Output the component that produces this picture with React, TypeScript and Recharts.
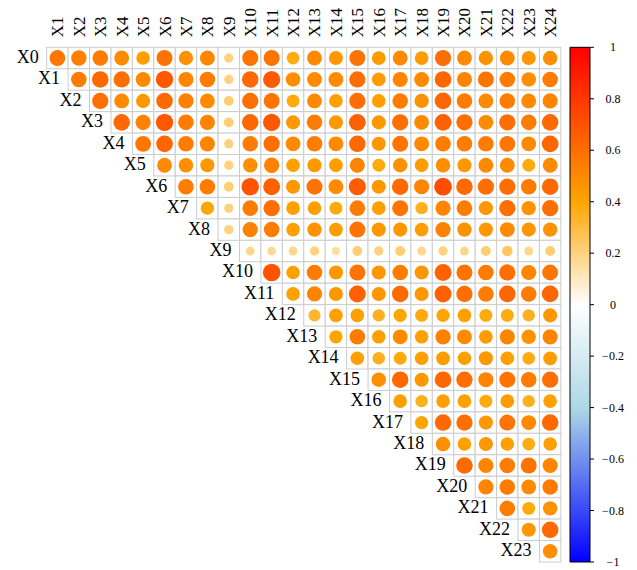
import React from 'react';
import { ScatterChart, Scatter, XAxis, YAxis, ReferenceArea } from 'recharts';

// Variable names along each axis
const rowLabels = Array.from({ length: 24 }, (_, i) => `X${i}`);
const colLabels = Array.from({ length: 24 }, (_, i) => `X${i + 1}`);
const colTicks = colLabels.map((_, i) => i + 1);

// Upper-triangle correlations: row Xi holds the values for columns X(i+1) .. X24
const corrX0 = [0.57, 0.54, 0.55, 0.5, 0.42, 0.58, 0.47, 0.51, 0.2, 0.58, 0.58, 0.37, 0.5, 0.45, 0.58, 0.43, 0.5, 0.43, 0.6, 0.5, 0.47, 0.5, 0.45, 0.48];
const corrX1 = [0.55, 0.62, 0.6, 0.5, 0.68, 0.52, 0.55, 0.2, 0.62, 0.67, 0.48, 0.5, 0.5, 0.6, 0.43, 0.52, 0.5, 0.63, 0.52, 0.58, 0.55, 0.48, 0.55];
const corrX2 = [0.6, 0.5, 0.45, 0.62, 0.53, 0.5, 0.22, 0.6, 0.58, 0.38, 0.5, 0.42, 0.6, 0.42, 0.55, 0.47, 0.63, 0.55, 0.5, 0.55, 0.5, 0.52];
const corrX3 = [0.62, 0.53, 0.68, 0.55, 0.52, 0.22, 0.62, 0.68, 0.45, 0.55, 0.45, 0.65, 0.45, 0.6, 0.5, 0.65, 0.6, 0.5, 0.6, 0.55, 0.62];
const corrX4 = [0.57, 0.63, 0.55, 0.52, 0.2, 0.55, 0.6, 0.5, 0.55, 0.5, 0.62, 0.45, 0.58, 0.5, 0.55, 0.55, 0.55, 0.57, 0.5, 0.63];
const corrX5 = [0.5, 0.48, 0.45, 0.2, 0.48, 0.53, 0.42, 0.45, 0.43, 0.52, 0.38, 0.47, 0.43, 0.48, 0.45, 0.5, 0.5, 0.38, 0.5];
const corrX6 = [0.55, 0.55, 0.22, 0.7, 0.65, 0.45, 0.58, 0.5, 0.67, 0.45, 0.62, 0.52, 0.72, 0.62, 0.6, 0.6, 0.55, 0.62];
const corrX7 = [0.4, 0.2, 0.55, 0.6, 0.42, 0.42, 0.38, 0.55, 0.42, 0.58, 0.35, 0.52, 0.55, 0.45, 0.6, 0.47, 0.6];
const corrX8 = [0.2, 0.53, 0.55, 0.42, 0.47, 0.43, 0.58, 0.45, 0.45, 0.43, 0.53, 0.47, 0.45, 0.5, 0.45, 0.47];
const corrX9 = [0.18, 0.17, 0.18, 0.2, 0.15, 0.22, 0.2, 0.22, 0.18, 0.2, 0.18, 0.22, 0.25, 0.18, 0.22];
const corrX10 = [0.7, 0.42, 0.55, 0.45, 0.58, 0.45, 0.55, 0.45, 0.65, 0.58, 0.55, 0.6, 0.52, 0.57];
const corrX11 = [0.42, 0.52, 0.45, 0.65, 0.45, 0.62, 0.45, 0.65, 0.6, 0.55, 0.63, 0.55, 0.63];
const corrX12 = [0.33, 0.42, 0.42, 0.35, 0.4, 0.38, 0.4, 0.42, 0.38, 0.38, 0.35, 0.45];
const corrX13 = [0.4, 0.55, 0.42, 0.5, 0.42, 0.53, 0.5, 0.43, 0.52, 0.47, 0.52];
const corrX14 = [0.42, 0.35, 0.38, 0.42, 0.43, 0.42, 0.45, 0.42, 0.37, 0.43];
const corrX15 = [0.48, 0.62, 0.45, 0.63, 0.6, 0.52, 0.58, 0.55, 0.6];
const corrX16 = [0.42, 0.35, 0.42, 0.42, 0.38, 0.43, 0.35, 0.42];
const corrX17 = [0.4, 0.62, 0.6, 0.45, 0.58, 0.5, 0.62];
const corrX18 = [0.48, 0.42, 0.45, 0.42, 0.37, 0.42];
const corrX19 = [0.62, 0.52, 0.55, 0.58, 0.52];
const corrX20 = [0.52, 0.55, 0.5, 0.55];
const corrX21 = [0.55, 0.38, 0.47];
const corrX22 = [0.45, 0.62];
const corrX23 = [0.48];

const corrRows = [
  corrX0, corrX1, corrX2, corrX3, corrX4, corrX5, corrX6, corrX7, corrX8, corrX9, corrX10, corrX11,
  corrX12, corrX13, corrX14, corrX15, corrX16, corrX17, corrX18, corrX19, corrX20, corrX21, corrX22, corrX23,
];

// Colour bar scale
const colorbarTicks = [-1, -0.8, -0.6, -0.4, -0.2, 0, 0.2, 0.4, 0.6, 0.8, 1];

// Diverging palette: blue -> light blue -> white -> orange -> red
const colorStops: [number, [number, number, number]][] = [
  [-1, [0, 0, 255]],
  [-0.4, [173, 216, 230]],
  [0, [255, 255, 255]],
  [0.4, [255, 165, 0]],
  [1, [255, 0, 0]],
];

function corrColor(v: number): string {
  for (let k = 0; k < colorStops.length - 1; k++) {
    const [a, ca] = colorStops[k];
    const [b, cb] = colorStops[k + 1];
    if (v >= a && v <= b) {
      const t = (v - a) / (b - a);
      const c = ca.map((x, n) => Math.round(x + (cb[n] - x) * t));
      return `rgb(${c[0]},${c[1]},${c[2]})`;
    }
  }
  return v > 0 ? 'rgb(255,0,0)' : 'rgb(0,0,255)';
}

// Layout
const WIDTH = 637;
const HEIGHT = 570;
const PLOT_LEFT = 46.7;
const PLOT_TOP = 47.3;
const PLOT_RIGHT = 590;
const PLOT_BOTTOM = 562;
const TOP_AXIS_H = 10;
const RIGHT_AXIS_W = 10;
const X_MIN = 0.5;
const X_MAX = 25.86;
const CELL_W = (PLOT_RIGHT - PLOT_LEFT) / (X_MAX - X_MIN);
const CELL_H = (PLOT_BOTTOM - PLOT_TOP) / rowLabels.length;
const CB_LEFT = X_MIN + (570 - PLOT_LEFT) / CELL_W;
const FONT = '"Liberation Serif", "Times New Roman", serif';

const cells = corrRows.flatMap((row, i) =>
  row.map((v, k) => ({ x: i + 1 + k, y: i, v }))
);
const rowLabelPoints = rowLabels.map((name, i) => ({ x: i + 1, y: i, name }));
// Tick positions of the colour bar, bound to its own value axis
const colorbarPoints = colorbarTicks.map((v) => ({ x: X_MAX, cb: v }));

const CellShape = (props: any) => {
  const { cx, cy, payload } = props;
  const v = payload.v as number;
  const r = Math.sqrt(Math.abs(v)) * CELL_W * 0.49;
  return (
    <g>
      <rect
        x={cx - CELL_W / 2}
        y={cy - CELL_H / 2}
        width={CELL_W}
        height={CELL_H}
        fill="#ffffff"
        stroke="#cccccc"
        strokeWidth={1}
      />
      <circle cx={cx} cy={cy} r={r} fill={corrColor(v)} />
    </g>
  );
};

const RowLabelShape = (props: any) => {
  const { cx, cy, payload } = props;
  return (
    <text
      x={cx - CELL_W / 2 - 8}
      y={cy + 5}
      textAnchor="end"
      fontFamily={FONT}
      fontSize={18}
      fill="#000"
    >
      {payload.name}
    </text>
  );
};

const fmtBar = (v: number) => {
  if (v === 0) return '0';
  const s = Math.abs(v) === 1 ? '1' : Math.abs(v).toFixed(1);
  return v < 0 ? `\u2212${s}` : s;
};

// Colour bar tick mark and label, placed at the point's position on the bar axis
const BarTickShape = (props: any) => {
  const { cx, cy, payload } = props;
  return (
    <g>
      <line x1={cx} x2={cx + 4} y1={cy} y2={cy} stroke="#000" strokeWidth={1} />
      <text
        x={cx + 23}
        y={cy + 4}
        textAnchor="middle"
        fontFamily={FONT}
        fontSize={12}
        fill="#000"
      >
        {fmtBar(payload.cb)}
      </text>
    </g>
  );
};

const ColTick = (props: any) => {
  const { x, payload } = props;
  return (
    <text
      transform={`translate(${x + 6}, ${PLOT_TOP - 10}) rotate(-90)`}
      textAnchor="start"
      fontFamily={FONT}
      fontSize={17}
      fill="#000"
    >
      {colLabels[payload.value - 1]}
    </text>
  );
};

export default function App() {
  return (
    <div style={{ position: 'absolute', left: 0, top: 0, background: '#fff' }}>
      <ScatterChart
        width={WIDTH}
        height={HEIGHT}
        margin={{
          top: PLOT_TOP - TOP_AXIS_H,
          right: WIDTH - PLOT_RIGHT - RIGHT_AXIS_W,
          bottom: HEIGHT - PLOT_BOTTOM,
          left: PLOT_LEFT,
        }}
      >
        <defs>
          <linearGradient id="cbGrad" x1="0" y1="0" x2="0" y2="1">
            <stop offset="0%" stopColor="rgb(255,0,0)" />
            <stop offset="30%" stopColor="rgb(255,165,0)" />
            <stop offset="50%" stopColor="rgb(255,255,255)" />
            <stop offset="70%" stopColor="rgb(173,216,230)" />
            <stop offset="100%" stopColor="rgb(0,0,255)" />
          </linearGradient>
        </defs>
        <XAxis
          type="number"
          dataKey="x"
          domain={[X_MIN, X_MAX]}
          ticks={colTicks}
          interval={0}
          orientation="top"
          height={TOP_AXIS_H}
          axisLine={false}
          tickLine={false}
          tick={<ColTick />}
        />
        <YAxis
          yAxisId="main"
          type="number"
          dataKey="y"
          domain={[-0.5, rowLabels.length - 0.5]}
          reversed
          hide
          width={0}
        />
        <YAxis
          yAxisId="cb"
          dataKey="cb"
          orientation="right"
          type="number"
          domain={[-1, 1]}
          ticks={colorbarTicks}
          width={RIGHT_AXIS_W}
          axisLine={false}
          tickLine={false}
          tick={false}
        />
        <ReferenceArea
          yAxisId="cb"
          x1={CB_LEFT}
          x2={X_MAX}
          y1={-1}
          y2={1}
          fill="url(#cbGrad)"
          fillOpacity={1}
          stroke="#000"
          strokeWidth={1}
          ifOverflow="visible"
        />
        <Scatter
          yAxisId="cb"
          data={colorbarPoints}
          shape={<BarTickShape />}
          isAnimationActive={false}
        />
        <Scatter
          yAxisId="main"
          data={cells}
          shape={<CellShape />}
          isAnimationActive={false}
        />
        <Scatter
          yAxisId="main"
          data={rowLabelPoints}
          shape={<RowLabelShape />}
          isAnimationActive={false}
        />
      </ScatterChart>
    </div>
  );
}
